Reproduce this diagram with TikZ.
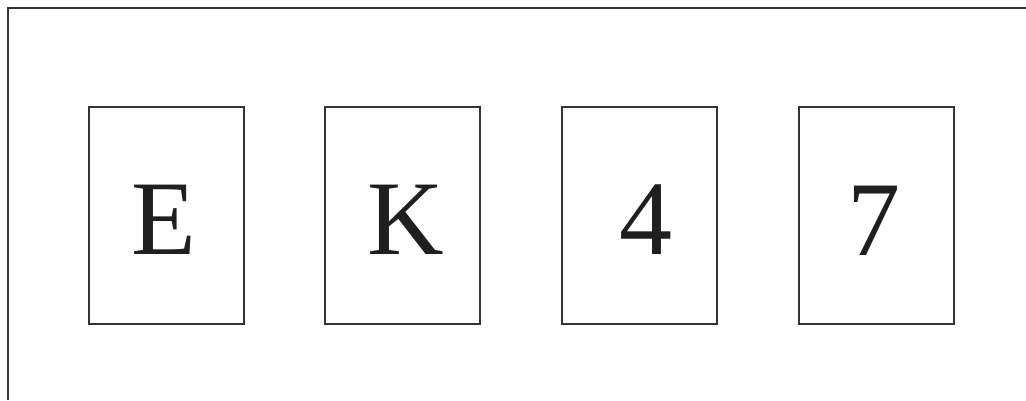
\documentclass[tikz,border=0pt]{standalone}
\usepackage{fontspec}
\setmainfont{Liberation Serif}
\begin{document}
\begin{tikzpicture}[x=1pt,y=-1pt,
  card/.style={draw=black!80,line width=2pt,minimum width=155pt,minimum height=217pt,inner sep=0pt},
  glyph/.style={anchor=base,inner sep=0pt,font=\fontsize{106}{106}\selectfont,text=black!88},
  frame/.style={draw=black!80,line width=2pt}]
\useasboundingbox (0,0) rectangle (1026,400);
\coordinate (tl) at (7.5,7.5);
\coordinate (tr) at (1026,7.5);
\coordinate (bl) at (7.5,400);
\draw[frame] (tr) -- (tl) -- (bl);
\node[card] (c1) at (166,215) {};
\node[card] (c2) at (402.5,215) {};
\node[card] (c3) at (639,215) {};
\node[card] (c4) at (876,215) {};
\node[glyph] (tE) at (164,254) {E};
\node[glyph] (tK) at (406,254) {K};
\node[glyph] (t4) at (646,254) {4};
\node[glyph] (t7) at (874,255) {7};
\end{tikzpicture}
\end{document}
